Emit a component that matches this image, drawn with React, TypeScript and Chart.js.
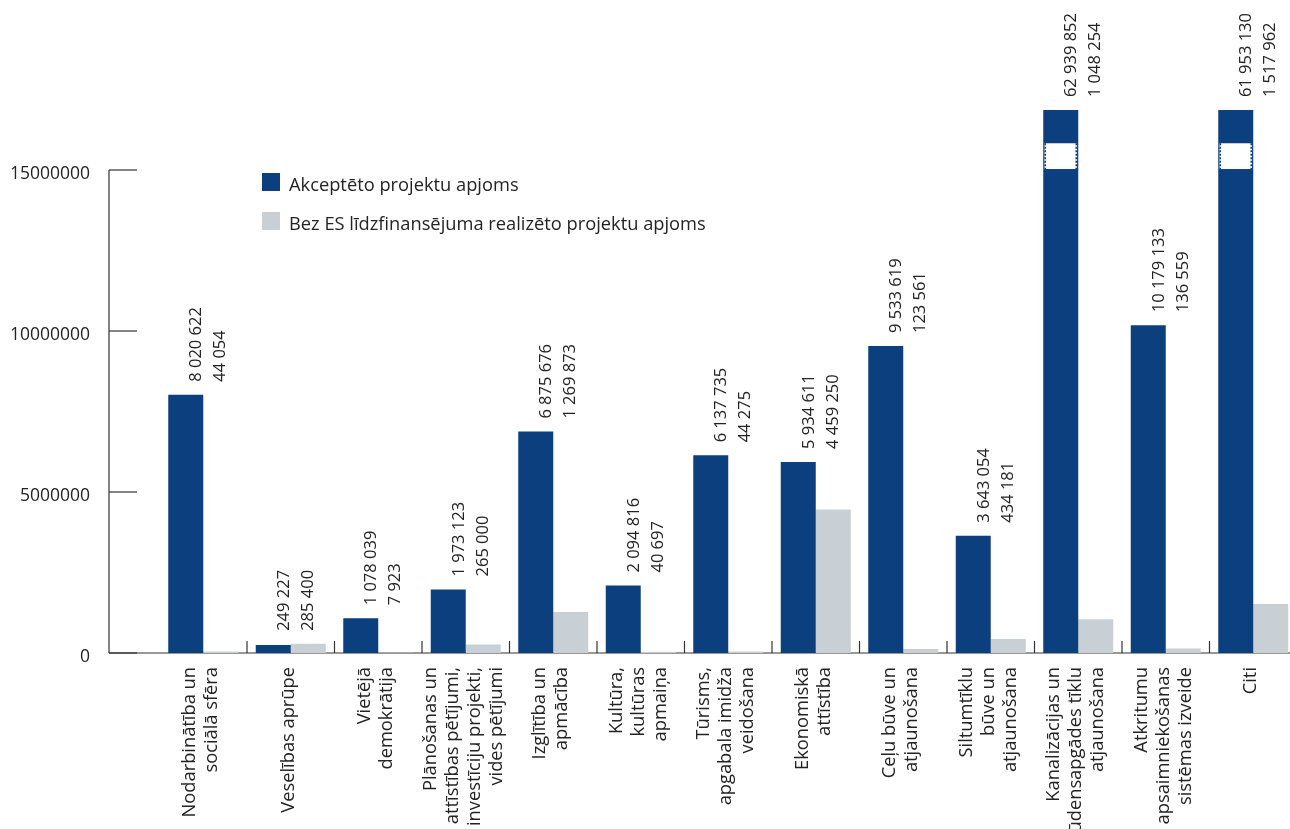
import React, { useEffect, useRef } from "react";
import { Chart, registerables } from "chart.js";

Chart.register(...registerables);

// ---- data ----
const categories: string[][] = [
  ["Nodarbinātība un", "sociālā sfēra"],
  ["Veselības aprūpe"],
  ["Vietējā", "demokrātija"],
  ["Plānošanas un", "attīstības pētījumi,", "investīciju projekti,", "vides pētījumi"],
  ["Izglītība un", "apmācība"],
  ["Kultūra,", "kultūras", "apmaiņa"],
  ["Tūrisms,", "apgabala imidža", "veidošana"],
  ["Ekonomiskā", "attīstība"],
  ["Ceļu būve un", "atjaunošana"],
  ["Siltumtīklu", "būve un", "atjaunošana"],
  ["Kanalizācijas un", "ūdensapgādes tīklu", "atjaunošana"],
  ["Atkritumu", "apsaimniekošanas", "sistēmas izveide"],
  ["Citi"],
];

const acceptedVolume: number[] = [
  8020622, 249227, 1078039, 1973123, 6875676, 2094816, 6137735, 5934611, 9533619,
  3643054, 62939852, 10179133, 61953130,
];

const withoutEuVolume: number[] = [
  44054, 285400, 7923, 265000, 1269873, 40697, 44275, 4459250, 123561, 434181,
  1048254, 136559, 1517962,
];

const seriesNames: string[] = [
  "Akceptēto projektu apjoms",
  "Bez ES līdzfinansējuma realizēto projektu apjoms",
];

const yTickValues: number[] = [0, 5000000, 10000000, 15000000];

// ---- axis / break settings ----
const Y_MAX = 17000000;
const DISPLAY_CAP = 16860000; // height at which over-range bars are cut
const BREAK_FROM = 15030000;
const BREAK_TO = 15830000;

// ---- styles ----
const BLUE = "#0b3f7e";
const GRAY = "#c8cfd5";
const TEXT = "#232323";
const LINE = "#333333";
const FONT = '"Open Sans", "Noto Sans", sans-serif';

const fmt = (v: number) => String(v).replace(/\B(?=(\d{3})+(?!\d))/g, " ");

const decor = {
  id: "decor",
  beforeDatasetsDraw(chart: any) {
    const ctx = chart.ctx;
    const xs = chart.scales.x;
    const ys = chart.scales.y;
    const axisX = 109;
    const y0 = ys.getPixelForValue(0);
    ctx.save();
    ctx.strokeStyle = LINE;
    ctx.lineWidth = 1.2;
    ctx.beginPath();
    ctx.moveTo(axisX, ys.getPixelForValue(yTickValues[yTickValues.length - 1]));
    ctx.lineTo(axisX, y0);
    ctx.stroke();
    yTickValues.forEach((v) => {
      const y = ys.getPixelForValue(v);
      ctx.beginPath();
      ctx.moveTo(axisX, y);
      ctx.lineTo(axisX + 28, y);
      ctx.stroke();
    });
    ctx.beginPath();
    ctx.moveTo(axisX, y0);
    ctx.lineTo(chart.width, y0);
    ctx.stroke();
    for (let i = 1; i < categories.length; i++) {
      const bx = (xs.getPixelForTick(i - 1) + xs.getPixelForTick(i)) / 2;
      ctx.beginPath();
      ctx.moveTo(bx, y0);
      ctx.lineTo(bx, y0 - 12);
      ctx.stroke();
    }
    ctx.restore();
  },
  afterDatasetsDraw(chart: any) {
    const ctx = chart.ctx;
    const xs = chart.scales.x;
    const ys = chart.scales.y;
    const m0 = chart.getDatasetMeta(0).data;
    const m1 = chart.getDatasetMeta(1).data;
    ctx.save();
    // breaks on over-range bars
    acceptedVolume.forEach((v, i) => {
      if (v <= DISPLAY_CAP) return;
      const bar = m0[i];
      const left = bar.x - bar.width / 2;
      const right = bar.x + bar.width / 2;
      const yTop = ys.getPixelForValue(BREAK_TO);
      const yBot = ys.getPixelForValue(BREAK_FROM);
      ctx.fillStyle = "#ffffff";
      ctx.fillRect(left + 1.2, yTop, right - left - 2.4, yBot - yTop);
      ctx.strokeStyle = BLUE;
      ctx.lineWidth = 1.6;
      ctx.setLineDash([2, 1.5]);
      [left + 2, right - 2].forEach((lx) => {
        ctx.beginPath();
        ctx.moveTo(lx, yTop);
        ctx.lineTo(lx, yBot);
        ctx.stroke();
      });
      ctx.setLineDash([]);
    });
    // value labels
    const fs = 16.5;
    ctx.font = `${fs}px ${FONT}`;
    ctx.fillStyle = TEXT;
    ctx.textAlign = "left";
    ctx.textBaseline = "alphabetic";
    acceptedVolume.forEach((v, i) => {
      const b0 = m0[i];
      const b1 = m1[i];
      const cx = (b0.x + b1.x) / 2;
      const yAnchor = Math.min(b0.y, b1.y) - 13;
      const texts = [fmt(v), fmt(withoutEuVolume[i])];
      const offs = [-8, 16];
      texts.forEach((t, k) => {
        ctx.save();
        ctx.translate(cx + offs[k] + fs * 0.36, yAnchor);
        ctx.rotate(-Math.PI / 2);
        ctx.fillText(t, 0, 0);
        ctx.restore();
      });
    });
    // x category labels
    ctx.font = `18.3px ${FONT}`;
    ctx.textAlign = "right";
    ctx.textBaseline = "middle";
    const yTop = xs.top + 14;
    categories.forEach((lines, i) => {
      const cx = xs.getPixelForTick(i);
      const n = lines.length;
      lines.forEach((line, j) => {
        const lx = cx - 2 + (j - (n - 1) / 2) * 22;
        ctx.save();
        ctx.translate(lx, yTop);
        ctx.rotate(-Math.PI / 2);
        ctx.fillText(line, 0, 0);
        ctx.restore();
      });
    });
    // legend
    ctx.font = `18.3px ${FONT}`;
    ctx.textAlign = "left";
    ctx.textBaseline = "alphabetic";
    chart.data.datasets.forEach((ds: any, k: number) => {
      const top = 173 + k * 39;
      ctx.fillStyle = ds.backgroundColor;
      ctx.fillRect(262, top, 18, 18);
      ctx.fillStyle = TEXT;
      ctx.fillText(ds.label, 289, top + 18);
    });
    ctx.restore();
  },
};

export default function App() {
  const ref = useRef<HTMLCanvasElement>(null);
  useEffect(() => {
    const chart = new Chart(ref.current as HTMLCanvasElement, {
      type: "bar",
      data: {
        labels: categories.map((c) => c.join(" ")),
        datasets: [
          {
            label: seriesNames[0],
            data: acceptedVolume.map((v) => Math.min(v, DISPLAY_CAP)),
            backgroundColor: BLUE,
            borderWidth: 0,
            categoryPercentage: 0.8,
            barPercentage: 1,
          },
          {
            label: seriesNames[1],
            data: withoutEuVolume,
            backgroundColor: GRAY,
            borderWidth: 0,
            categoryPercentage: 0.8,
            barPercentage: 1,
          },
        ],
      },
      options: {
        responsive: false,
        animation: false,
        devicePixelRatio: 1,
        layout: { padding: { top: 105.6, left: 0, right: 0, bottom: 0 } },
        plugins: { legend: { display: false }, tooltip: { enabled: false } },
        scales: {
          x: {
            grid: { display: false, drawTicks: false },
            border: { display: false },
            ticks: { display: false },
            afterFit: (s: any) => {
              s.height = 176;
            },
          },
          y: {
            min: 0,
            max: Y_MAX,
            grid: { display: false, drawTicks: false },
            border: { display: false },
            afterBuildTicks: (s: any) => {
              s.ticks = yTickValues.map((v) => ({ value: v }));
            },
            ticks: {
              padding: 69.5,
              labelOffset: 4,
              color: TEXT,
              font: { family: FONT, size: 17.5 },
              callback: (v: any) => String(v),
            },
            afterFit: (s: any) => {
              s.width = 159.5;
            },
          },
        },
      },
      plugins: [decor],
    });
    return () => chart.destroy();
  }, []);
  return (
    <div
      style={{
        position: "fixed",
        left: 0,
        top: 0,
        width: 1290,
        height: 829,
        overflow: "hidden",
        background: "#ffffff",
      }}
    >
      <canvas ref={ref} width={1297} height={829} style={{ display: "block" }} />
    </div>
  );
}
